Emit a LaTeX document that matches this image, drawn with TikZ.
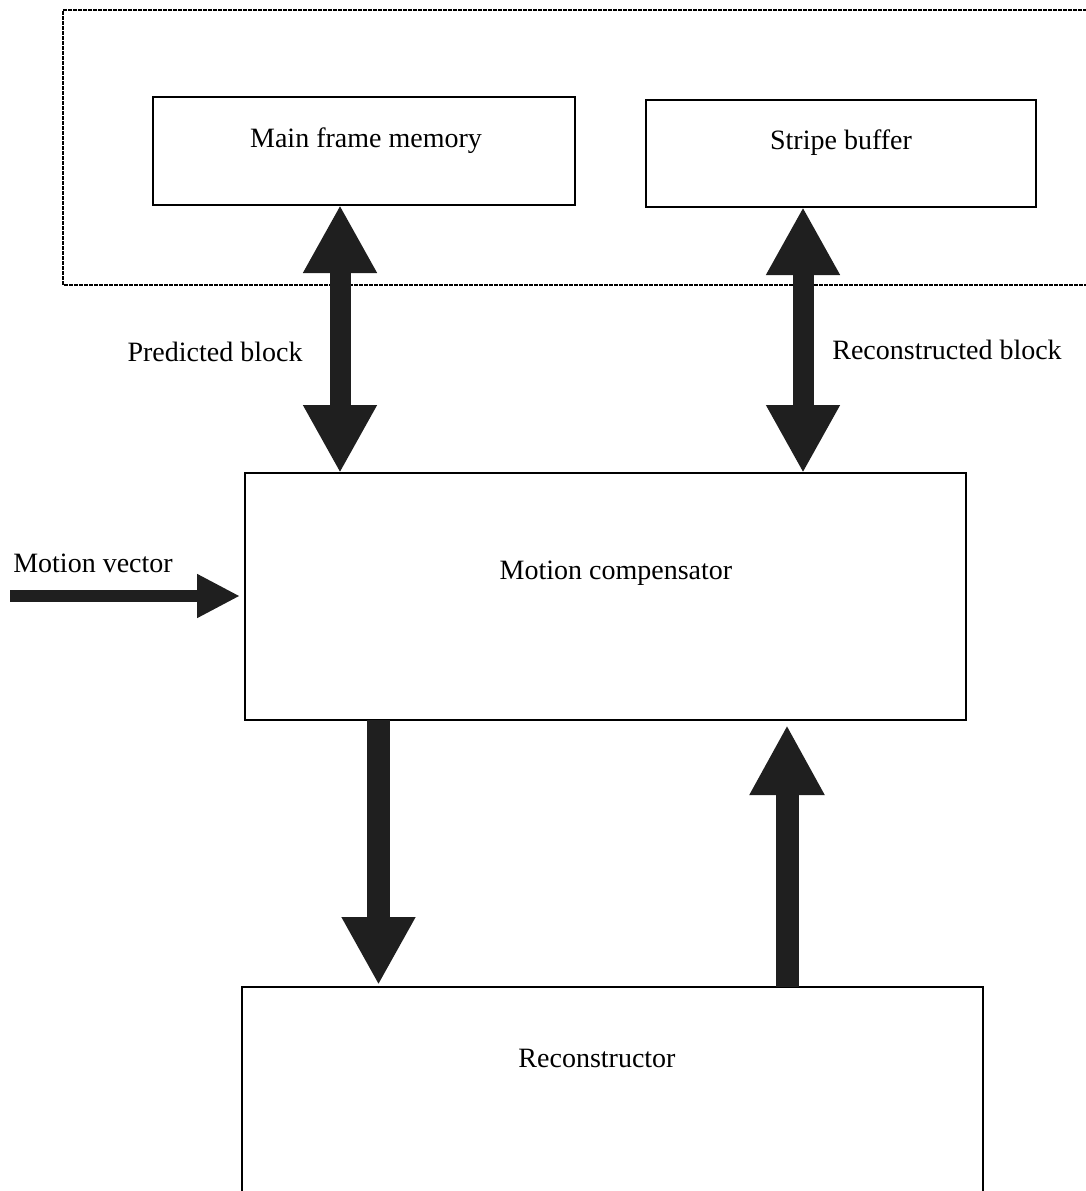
\documentclass[tikz,border=0pt]{standalone}
\usepackage{fontspec}
\setmainfont{Liberation Serif}
\usetikzlibrary{arrows.meta}
\tikzset{
  blk/.style={draw=black, line width=2pt, outer sep=0pt, inner sep=0pt, fill=white},
  lbl/.style={font=\fontsize{28}{34}\selectfont, inner sep=0pt},
  fatv/.style={draw=black!88, line width=21pt, line cap=butt,
    {Triangle[length=68pt,width=69pt]}-{Triangle[length=68pt,width=69pt]}},
  fatdown/.style={draw=black!88, line width=23pt, line cap=butt,
    -{Triangle[length=68pt,width=69pt]}},
  fatup/.style={draw=black!88, line width=23pt, line cap=butt,
    -{Triangle[length=70pt,width=70pt]}},
  fatright/.style={draw=black!88, line width=12pt, line cap=butt,
    -{Triangle[length=43pt,width=41pt]}},
  dashbox/.style={draw=black, line width=1.4pt, dash pattern=on 4pt off 1pt}
}
\begin{document}
\begin{tikzpicture}[x=1pt,y=-1pt]
\useasboundingbox (0,0) rectangle (1086,1191);
% outer dashed group (right side off the page)
\draw[dashbox] (1092,10) -- (63,10) -- (63,285) -- (1092,285);
% boxes
\node[blk, minimum width=422pt, minimum height=108pt] (mfm) at (364,151) {};
\node[blk, minimum width=390pt, minimum height=107pt] (sb) at (841,153.5) {};
\node[blk, minimum width=721pt, minimum height=247pt] (mc) at (605.5,596.5) {};
\node[blk, minimum width=741pt, minimum height=230pt] (rc) at (612.5,1102) {};
% box texts
\node[lbl] (tmfm) at (366,141) {Main frame memory};
\node[lbl] (tsb) at (841,143) {Stripe buffer};
\node[lbl] (tmc) at (616,573) {Motion compensator};
\node[lbl] (trc) at (597,1058) {Reconstructor};
% free labels
\node[lbl] (tpb) at (215,352) {Predicted block};
\node[lbl] (trb) at (947,350) {Reconstructed block};
\node[lbl] (tmv) at (93,563) {Motion vector};
% x positions for the fat arrows
\coordinate (xA) at (340,0);
\coordinate (xB) at (803,0);
\coordinate (xC) at (378.5,0);
\coordinate (xD) at (787,0);
\coordinate (mvstart) at (10,596);
% connectors
\draw[fatv] (mfm.south -| xA) -- (mc.north -| xA);
\draw[fatv] (sb.south -| xB) -- (mc.north -| xB);
\draw[fatright] (mvstart) -- ([xshift=-5pt]mc.west |- mvstart);
\draw[fatdown] (mc.south -| xC) -- ([yshift=2pt]rc.north -| xC);
\draw[fatup] (rc.north -| xD) -- ([yshift=-5pt]mc.south -| xD);
\end{tikzpicture}
\end{document}
